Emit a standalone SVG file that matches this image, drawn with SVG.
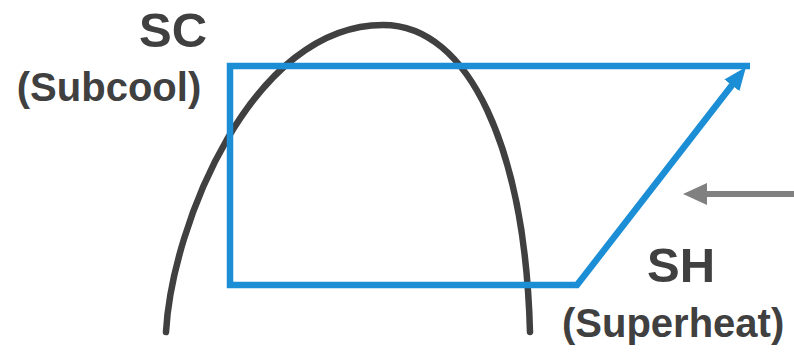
<svg xmlns="http://www.w3.org/2000/svg" width="794" height="353" viewBox="0 0 794 353">
  <style>
    .lbl { font-family: "Liberation Sans", Arial, sans-serif; font-weight: bold; fill: #404040; }
    .big { font-size: 49px; }
    .small { font-size: 40px; }
    .dome { fill: none; stroke: #404040; stroke-width: 6.5; stroke-linecap: round; }
    .cycle { fill: none; stroke: #1b8ed6; stroke-width: 6.5; stroke-linejoin: miter; }
    .pointer { fill: none; stroke: #808080; stroke-width: 6; }
  </style>
  <defs>
    <marker id="blueHead" markerUnits="userSpaceOnUse" markerWidth="24" markerHeight="20" refX="1" refY="9.5" orient="auto">
      <path d="M0,0 L23,9.5 L0,19 z" fill="#1b8ed6"/>
    </marker>
    <marker id="grayHead" markerUnits="userSpaceOnUse" markerWidth="26" markerHeight="24" refX="1" refY="11" orient="auto">
      <path d="M0,0 L24,11 L0,22 z" fill="#808080"/>
    </marker>
  </defs>
  <rect width="794" height="353" fill="#ffffff"/>

  <g id="saturation-dome">
    <path class="dome" d="M166,332 C172,225 252,25 383,25 C470,25 525,150 530,332"/>
  </g>

  <g id="refrigeration-cycle">
    <path class="cycle" d="M750,66 H230 V285 H577 L732.5,84.5" marker-end="url(#blueHead)"/>
  </g>

  <g id="sc-label">
    <text class="lbl big" x="173" y="47" text-anchor="middle">SC</text>
    <text class="lbl small" x="109" y="101" text-anchor="middle">(Subcool)</text>
  </g>

  <g id="sh-label">
    <text class="lbl big" x="681" y="282" text-anchor="middle">SH</text>
    <text class="lbl small" x="562" y="337">(Superheat)</text>
  </g>

  <g id="connectors">
    <path class="pointer" d="M794,194 H706" marker-end="url(#grayHead)"/>
  </g>
</svg>
